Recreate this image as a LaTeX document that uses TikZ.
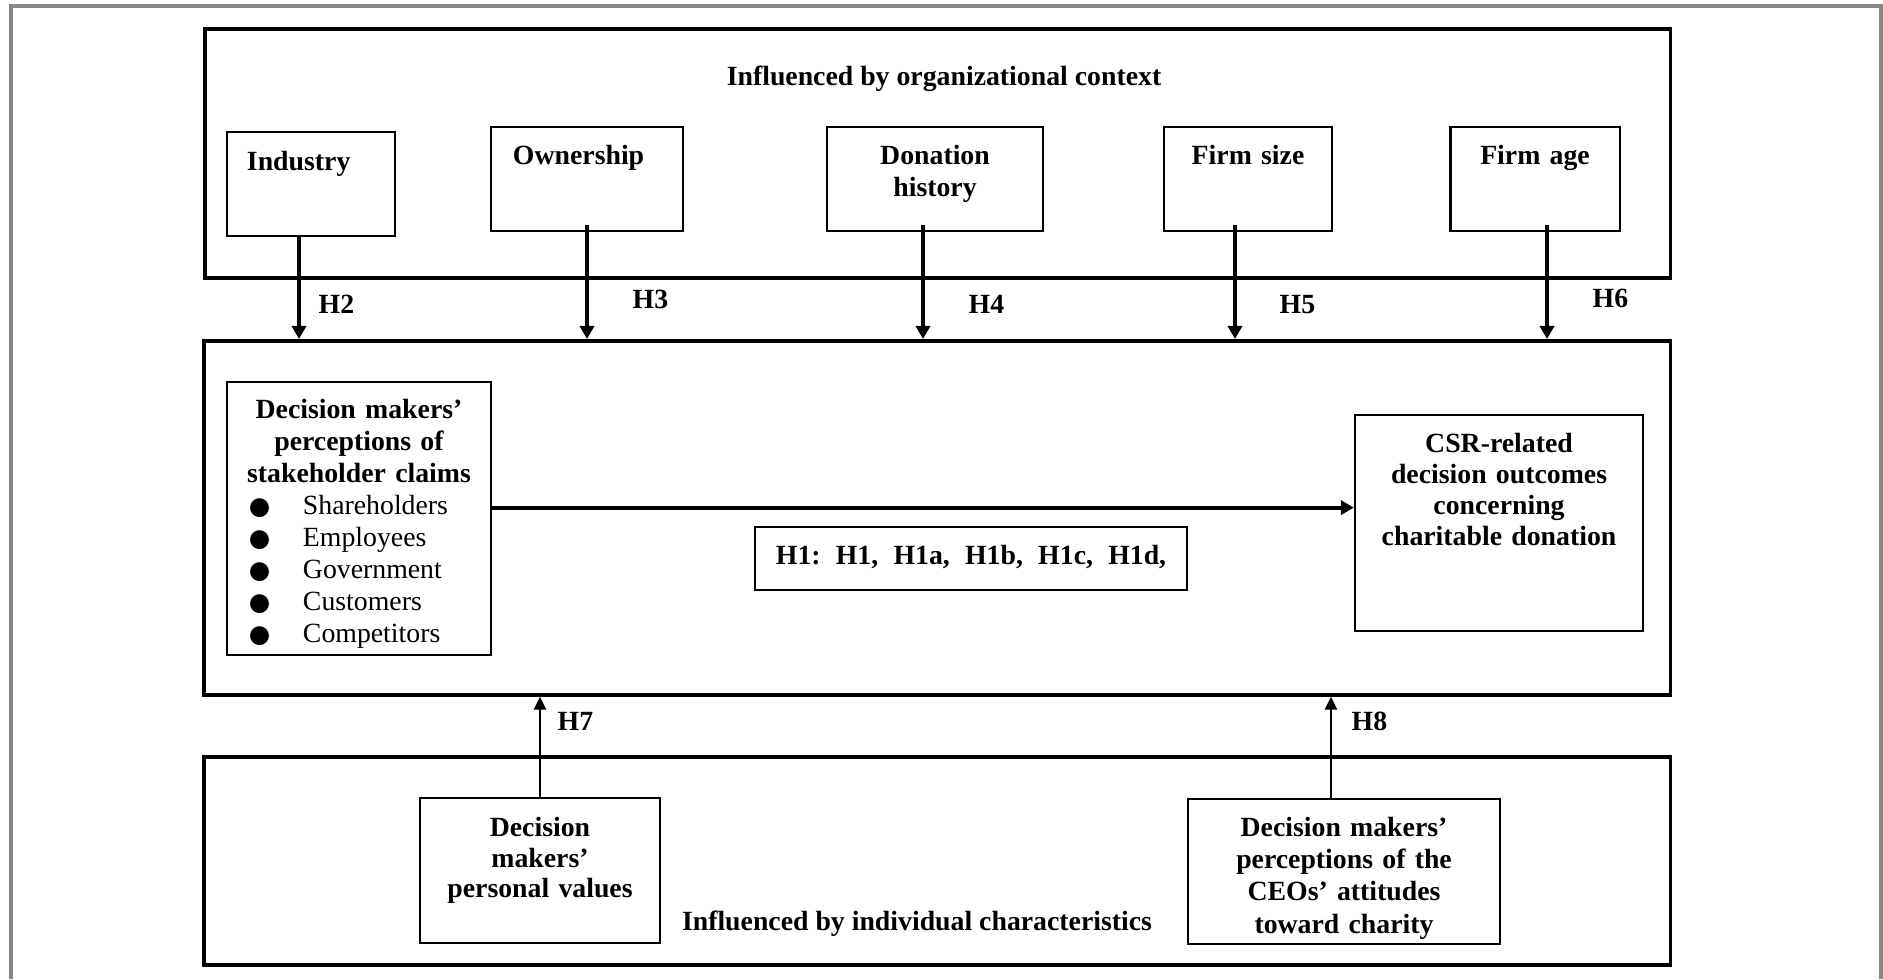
\documentclass[tikz,border=0pt]{standalone}
\usepackage{fontspec}
\setmainfont{Liberation Serif}
\newfontfamily\dotfont{DejaVu Sans}
\usepackage{tikz}
\usetikzlibrary{positioning,calc,arrows.meta}

% one stakeholder line with its bullet
\newcommand{\stkitem}[1]{\makebox[2.4cm][l]{\hspace{0.1cm}\makebox[0.54cm][l]{\dotfont\fontsize{7}{7}\selectfont ●}\mdseries #1}}

\tikzset{
  outer/.style={shape=rectangle,draw=black,line width=1pt,inner sep=0pt,anchor=north west},
  fbox/.style={shape=rectangle,draw=black,line width=0.6pt,inner ysep=0pt,inner xsep=0.2cm,anchor=north,align=center},
  arr/.style={line width=1.1pt,-{Triangle[length=0.13cm,width=0.14cm]}},
  arrup/.style={line width=0.8pt,-{Triangle[length=0.13cm,width=0.12cm]}},
  hlab/.style={anchor=base west,inner sep=0pt},
  frame/.style={draw=black!47,line width=1.1pt},
}

\begin{document}
\begin{tikzpicture}[x=0.01cm,y=-0.01cm,font=\fontsize{7.9}{9.1}\selectfont\bfseries]
				\useasboundingbox (0,0) rectangle (1883,979);
				\draw[frame] (11,979) -- (11,6) -- (1881,6) -- (1881,979);

				% organizational context
				\node[outer,minimum width=14.65cm,minimum height=2.49cm] (ctx) at (203,27) {};
				\node[anchor=base,inner sep=0pt] (ctxt) at (944,86) {Influenced by organizational context};
				\node[fbox,align=left,text width=1.28cm,text height=0.38cm,text depth=0.66cm] (ind) at (311,131) {Industry};
				\node[fbox,align=left,text width=1.48cm,inner xsep=0.22cm,text height=0.37cm,text depth=0.67cm] (own) at (587,126) {Ownership};
				\node[fbox,text width=1.76cm,text height=0.37cm,text depth=0.67cm,font=\fontsize{7.9}{9.3}\selectfont\bfseries] (don) at (935,126) {Donation\\history};
				\node[fbox,text width=1.28cm,text height=0.37cm,text depth=0.67cm] (fsz) at (1248,126) {Firm size};
				\node[fbox,text width=1.29cm,text height=0.37cm,text depth=0.67cm] (fag) at (1535,126) {Firm age};

				% decision box
				\node[outer,minimum width=14.66cm,minimum height=3.54cm] (mid) at (202,339) {};
				\node[fbox,text width=2.4cm,inner xsep=0.12cm,text height=0.36cm,text depth=2.37cm] (stk) at (359,381)
					{Decision makers'\\perceptions of\\stakeholder claims\\\stkitem{Shareholders}\\\stkitem{Employees}\\\stkitem{Government}\\\stkitem{Customers}\\\stkitem{Competitors}};
				\node[fbox,text width=2.48cm,text height=0.37cm,text depth=1.79cm,font=\fontsize{7.9}{8.9}\selectfont\bfseries] (csr) at (1499,414)
					{CSR-related\\decision outcomes\\concerning\\charitable donation};
				\node[fbox,align=left,text width=3.9cm,inner xsep=0.21cm,text height=0.37cm,text depth=0.26cm] (hyp1) at (971,526)
					{\makebox[3.9cm][l]{H1:\hfill H1,\hfill H1a,\hfill H1b,\hfill H1c,\hfill H1d,}};

				% individual characteristics
				\node[outer,minimum width=14.66cm,minimum height=2.08cm] (indiv) at (202,755) {};
				\node[anchor=base,inner sep=0pt] (indivt) at (917,930) {Influenced by individual characteristics};
				\node[fbox,text width=2.0cm,text height=0.38cm,text depth=1.07cm,font=\fontsize{7.9}{8.8}\selectfont\bfseries] (pval) at (540,797)
					{Decision\\makers'\\personal values};
				\node[fbox,text width=2.72cm,text height=0.37cm,text depth=1.08cm,font=\fontsize{7.9}{9.2}\selectfont\bfseries] (ceo) at (1344,798)
					{Decision makers'\\perceptions of the\\CEOs' attitudes\\toward charity};

				% hypotheses
				\draw[arr] ([xshift=-0.12cm]ind.south) -- ([xshift=-0.12cm]ind.south |- mid.north);
				\draw[arr] ([yshift=0.07cm]own.south) -- (own.south |- mid.north);
				\draw[arr] ([xshift=-0.12cm,yshift=0.07cm]don.south) -- ([xshift=-0.12cm]don.south |- mid.north);
				\draw[arr] ([xshift=-0.13cm,yshift=0.07cm]fsz.south) -- ([xshift=-0.13cm]fsz.south |- mid.north);
				\draw[arr] ([xshift=0.12cm,yshift=0.07cm]fag.south) -- ([xshift=0.12cm]fag.south |- mid.north);
				\coordinate (h1s) at ([yshift=0.11cm]stk.east);
				\draw[arr] (h1s) -- (h1s -| csr.west);
				\draw[arrup] (pval.north) -- (pval.north |- mid.south);
				\draw[arrup] ([xshift=-0.13cm]ceo.north) -- ([xshift=-0.13cm]ceo.north |- mid.south);

				\node[hlab] (h2) at (318,313) {H2};
				\node[hlab] (h3) at (632,308) {H3};
				\node[hlab] (h4) at (968,313) {H4};
				\node[hlab] (h5) at (1279,313) {H5};
				\node[hlab] (h6) at (1592,307) {H6};
				\node[hlab] (h7) at (557,730) {H7};
				\node[hlab] (h8) at (1351,730) {H8};
			\end{tikzpicture}
\end{document}
